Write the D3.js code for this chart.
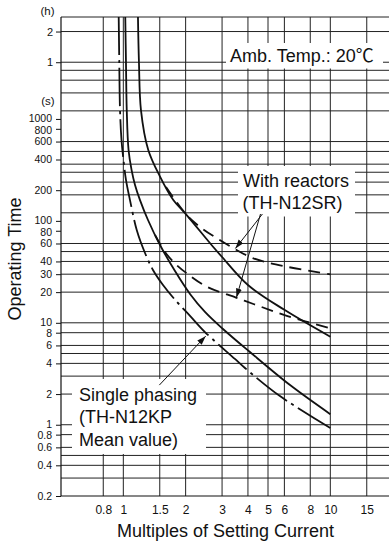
<!DOCTYPE html>
<html><head><meta charset="utf-8">
<script src="https://cdn.jsdelivr.net/npm/d3@7"></script>
<style>
body{margin:0;background:#fff;}
svg{display:block;}
text{font-family:"Liberation Sans",Arial,Helvetica,"Noto Sans CJK JP",sans-serif;fill:#111;}
</style>
</head><body>
<svg id="c" width="389" height="545"></svg>
<script>
// ---- data ----
const xTicks = [0.8, 1, 1.5, 2, 3, 4, 5, 6, 8, 10, 15];
const yTickSec = [1000, 800, 600, 400, 200, 100, 80, 60, 40, 30, 20, 10, 8, 6, 4, 2, 1, 0.8, 0.6, 0.4, 0.2];
const yTickHourLabels = ["2", "1"];
const yTickHourSec = [7200, 3600];
const yGridSec = [0.3, 0.4, 0.5, 0.6, 0.8, 1, 2, 3, 4, 5, 6, 8, 10, 20, 30, 40, 50, 60,
  120, 180, 240, 300, 360, 480, 600, 1200, 1800, 2400, 3000, 3600, 7200, 10000];

// [multiple of setting current, operating time (s)]
const curveSinglePhasing = [[0.950,10000],[0.956,3618],[0.964,1223],[0.980,621],[1.002,395],[1.030,252],
  [1.077,160],[1.161,81.4],[1.273,48.4],[1.391,33.0],[1.555,23.5],[1.817,16.0],[2.10,11.7],[2.48,8.12],
  [3.46,4.42],[3.87,3.60],[5.71,1.91],[10,0.93]];
const curveStandard = [[1.022,10000],[1.030,3618],[1.039,1223],[1.060,496],[1.096,316],[1.139,225],
  [1.204,160],[1.316,102],[1.504,58],[1.777,32.2],[2.10,19.2],[2.48,12.8],[3.03,8.7],[4.09,5.17],[6.39,2.45],[10,1.27]];
const curveUpper = [[1.177,10000],[1.190,3618],[1.217,1223],[1.320,496],[1.5,275],[1.744,160],[2,117],
  [2.72,55.4],[3,44.2],[4,23.5],[6,13.4],[10,7.3]];
const curveReactorUpper = [[1.608,215],[2.024,114],[2.35,87.1],[2.83,67.5],[3.46,53.0],[4.25,42.9],[6.16,35.5],[10,29.9]];
const curveReactorLower = [[1.423,72.7],[1.59,49.5],[1.777,38.2],[2.024,30.6],[2.53,22.6],[3.50,17.7],[4.25,15.3],[6.16,11.7],[10,8.84]];

// arrows: [from, to] in data coordinates
const arrowsReactor = [[[4.70,116.8],[3.48,53.6]], [[4.60,116.8],[3.52,17.7]]];
const arrowsSingle = [[[1.493,2.45],[2.50,7.4]]];

// ---- layout ----
const svg = d3.select("#c");
const L = 61, T = 17, B = 496, R = 389;
const x = d3.scaleLog().domain([0.5, 20]).range([61, 61 + 207 * Math.log10(40)]);
const y = d3.scaleLog().domain([0.2, 10000]).range([B, T]);

const defs = svg.append("defs");
defs.append("clipPath").attr("id","plot").append("rect").attr("x",L).attr("y",T).attr("width",R-L+5).attr("height",B-T);
defs.append("marker").attr("id","ah").attr("markerUnits","userSpaceOnUse")
  .attr("markerWidth",10).attr("markerHeight",8).attr("refX",9).attr("refY",3).attr("orient","auto")
  .append("path").attr("d","M0,0L9,3L0,6Z").attr("fill","#111");

// grid
const grid = svg.append("g").attr("stroke","#222").attr("stroke-width",1);
grid.selectAll(".vx").data(xTicks).join("line")
  .attr("x1",d=>x(d)).attr("x2",d=>x(d)).attr("y1",T).attr("y2",B);
grid.selectAll(".hy").data(yGridSec).join("line")
  .attr("x1",L).attr("x2",R+5).attr("y1",d=>y(d)).attr("y2",d=>y(d));

// white label boxes
const boxes = [[226,43,157,25.5],[238,166,117,50.5],[72,379,134,75]];
svg.append("g").selectAll("rect").data(boxes).join("rect")
  .attr("x",d=>d[0]).attr("y",d=>d[1]).attr("width",d=>d[2]).attr("height",d=>d[3]).attr("fill","#fff");

// curves
const line = d3.line().x(d=>x(d[0])).y(d=>y(d[1])).curve(d3.curveCatmullRom.alpha(0.5));
const cg = svg.append("g").attr("clip-path","url(#plot)").attr("fill","none").attr("stroke","#111").attr("stroke-width",1.8);
cg.append("path").attr("d",line(curveSinglePhasing)).attr("stroke-dasharray","38,5,3,5");
cg.append("path").attr("d",line(curveStandard));
cg.append("path").attr("d",line(curveUpper));
cg.append("path").attr("d",line(curveReactorUpper)).attr("stroke-dasharray","12,7");
cg.append("path").attr("d",line(curveReactorLower)).attr("stroke-dasharray","12,7");

// arrows
const ag = svg.append("g").attr("stroke","#111").attr("stroke-width",1);
ag.selectAll("line").data(arrowsReactor.concat(arrowsSingle)).join("line")
  .attr("x1",d=>x(d[0][0])).attr("y1",d=>y(d[0][1])).attr("x2",d=>x(d[1][0])).attr("y2",d=>y(d[1][1]))
  .attr("marker-end","url(#ah)");

// axes
const ax = svg.append("g").attr("stroke","#111").attr("stroke-width",1.2);
ax.append("line").attr("x1",L).attr("x2",L).attr("y1",T).attr("y2",B);
ax.append("line").attr("x1",L).attr("x2",R+5).attr("y1",B).attr("y2",B);

const yAxis = d3.axisLeft(y).tickValues(yTickSec).tickSize(5).tickPadding(4).tickFormat(d=>String(d));
const gy = svg.append("g").attr("transform",`translate(${L},0)`).call(yAxis);
gy.select(".domain").remove();
// nudge the tightly packed labels (x1 / x0.8 pairs) slightly apart so they do not collide
gy.selectAll("text").style("font-size","10.5px").attr("fill","#111")
  .attr("transform", d => {
    const m = Math.log10(d); const f = m - Math.floor(m + 1e-9);
    if (Math.abs(f) < 1e-6) return "translate(0,-1)";
    if (Math.abs(f - Math.log10(8)) < 1e-6) return "translate(0,0.9)";
    return null;
  });
gy.selectAll(".tick line").attr("stroke","#111");

const yAxisH = d3.axisLeft(y).tickValues(yTickHourSec).tickSize(5).tickPadding(3)
  .tickFormat((d,i)=>yTickHourLabels[i]);
const gyh = svg.append("g").attr("transform",`translate(${L},0)`).call(yAxisH);
gyh.select(".domain").remove();
gyh.selectAll("text").style("font-size","11px").attr("fill","#111");
gyh.selectAll(".tick line").attr("stroke","#111");

const xAxis = d3.axisBottom(x).tickValues(xTicks).tickSize(0).tickPadding(9).tickFormat(d=>String(d));
const gx = svg.append("g").attr("transform",`translate(0,${B})`).call(xAxis);
gx.select(".domain").remove();
gx.selectAll("text").style("font-size","12px").attr("fill","#111");

// unit labels
svg.append("text").attr("x",47.5).attr("y",14.5).attr("text-anchor","middle").style("font-size","11.5px").text("(h)");
svg.append("text").attr("x",48).attr("y",105).attr("text-anchor","middle").style("font-size","11.5px").text("(s)");

// titles
svg.append("text").attr("x",225.5).attr("y",536.5).attr("text-anchor","middle").style("font-size","18px").text("Multiples of Setting Current");
svg.append("text").attr("transform","translate(20.5,259) rotate(-90)").attr("text-anchor","middle").style("font-size","18px").text("Operating Time");

// annotations
const ann = [
  [230,61.5,"Amb. Temp.: 20℃"],
  [243,186.5,"With reactors"],
  [242.5,208.5,"(TH-N12SR)"],
  [79,401,"Single phasing"],
  [79,423.3,"(TH-N12KP"],
  [79,445.6,"Mean value)"]
];
svg.append("g").selectAll("text").data(ann).join("text")
  .attr("x",d=>d[0]).attr("y",d=>d[1]).style("font-size","18px").text(d=>d[2]);
</script>
</body></html>
